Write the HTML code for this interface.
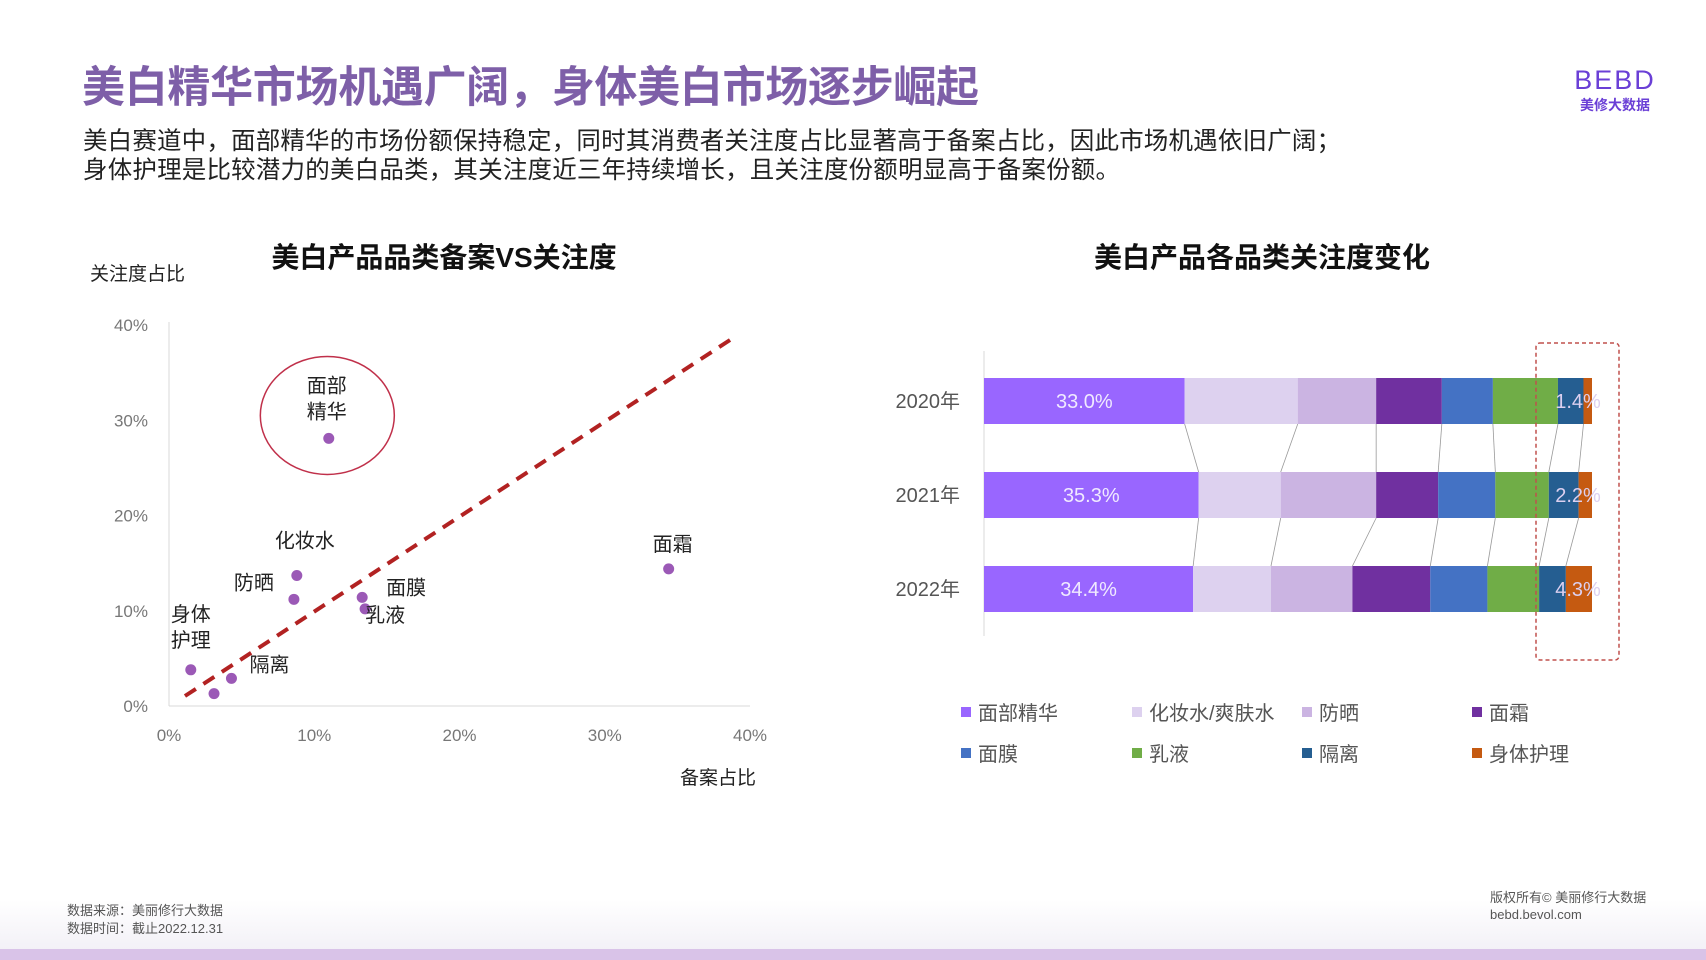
<!DOCTYPE html>
<html><head><meta charset="utf-8">
<style>
body{margin:0;width:1706px;height:960px;background:#fff;overflow:hidden;font-family:"Liberation Sans","Noto Sans CJK SC",sans-serif;}
svg{position:absolute;left:0;top:0}
text{font-family:"Liberation Sans","Noto Sans CJK SC",sans-serif}
</style></head>
<body>
<svg id="s" width="1706" height="960" xmlns="http://www.w3.org/2000/svg">
<defs><linearGradient id="fg" x1="0" y1="0" x2="0" y2="1"><stop offset="0" stop-color="#fff"/><stop offset="1" stop-color="#f3f1f7"/></linearGradient></defs>
<rect x="0" y="900" width="1706" height="49" fill="url(#fg)"/>
<rect x="0" y="949" width="1706" height="11" fill="#d9c3e8"/>
<text x="82" y="102" font-size="43" font-weight="bold" fill="#7e5fa8" textLength="897">美白精华市场机遇广阔，身体美白市场逐步崛起</text>
<text x="83" y="149" font-size="24.5" fill="#222" textLength="1258">美白赛道中，面部精华的市场份额保持稳定，同时其消费者关注度占比显著高于备案占比，因此市场机遇依旧广阔；</text>
<text x="83" y="178" font-size="24.5" fill="#222" textLength="1037">身体护理是比较潜力的美白品类，其关注度近三年持续增长，且关注度份额明显高于备案份额。</text>
<g>
<text x="1615" y="89" font-size="27" fill="#6a3fd6" text-anchor="middle" letter-spacing="2">BEBD</text>
<text x="1615" y="110" font-size="14" fill="#6a3fd6" text-anchor="middle" font-weight="bold">美修大数据</text>
</g>
<text x="444" y="267" font-size="28" font-weight="bold" fill="#111" text-anchor="middle">美白产品品类备案VS关注度</text>
<text x="1262" y="267" font-size="28" font-weight="bold" fill="#111" text-anchor="middle">美白产品各品类关注度变化</text>
<text x="90" y="280" font-size="19" fill="#222">关注度占比</text>
<text x="756" y="784" font-size="19" fill="#222" text-anchor="end">备案占比</text>
<g id="sc"></g>
<g id="bc"></g>
<g id="lg"></g>
<text x="67" y="915" font-size="13" fill="#555">数据来源：美丽修行大数据</text>
<text x="67" y="933" font-size="13" fill="#555">数据时间：截止2022.12.31</text>
<text x="1490" y="902" font-size="13" fill="#555">版权所有© 美丽修行大数据</text>
<text x="1490" y="919" font-size="13" fill="#555">bebd.bevol.com</text>
</svg>
<script>
const NS="http://www.w3.org/2000/svg";
const scNames=["面部精华","化妆水","防晒","面膜","乳液","面霜","身体护理","隔离",""];
const scFiling=[11.0,8.8,8.6,13.3,13.5,34.4,1.5,4.3,3.1];
const scAttention=[28.1,13.7,11.2,11.4,10.2,14.4,3.8,2.9,1.3];
const ticks=[0,10,20,30,40];
const trendX=[1.1,39];
const trendY=[1.05,38.8];
const years=["2020年","2021年","2022年"];
const cats=["面部精华","化妆水/爽肤水","防晒","面霜","面膜","乳液","隔离","身体护理"];
const colors=["#9966ff","#ddd1ef","#cbb4e2","#7030a0","#4472c4","#70ad47","#255e91","#c55a11"];
const share2020=[33.0,18.6,12.9,10.8,8.4,10.7,4.2,1.4];
const share2021=[35.3,13.5,15.7,10.2,9.4,8.8,4.9,2.2];
const share2022=[34.4,12.8,13.4,12.8,9.4,8.5,4.4,4.3];
const shares=[share2020,share2021,share2022];

function mk(t,a,p){const e=document.createElementNS(NS,t);for(const k in a)e.setAttribute(k,a[k]);(p||document.getElementById('s')).appendChild(e);return e;}
const sc=document.getElementById('sc');
const X0=169,X1=750,Y0=706,Y1=325;
const sx=v=>X0+(X1-X0)*v/40, sy=v=>Y0-(Y0-Y1)*v/40;
let ax=mk('line',{x1:X0,y1:Y1-3,x2:X0,y2:Y0,stroke:'#d9d9d9'},sc);


ax=mk('line',{x1:X0,y1:Y0,x2:X1,y2:Y0,stroke:'#d9d9d9'},sc);


ticks.forEach(t=>{
 let a=mk('text',{x:148,y:sy(t)+6,'font-size':17,fill:'#777','text-anchor':'end'},sc);a.textContent=t+'%';
 
 
 let b=mk('text',{x:sx(t),y:741,'font-size':17,fill:'#777','text-anchor':'middle'},sc);b.textContent=t+'%';
 
 
});
let tl=mk('line',{x1:sx(trendX[0]),y1:sy(trendY[0]),x2:sx(trendX[1]),y2:sy(trendY[1]),stroke:'#b22222','stroke-width':4,'stroke-dasharray':'13 9'},sc);


let ci=mk('ellipse',{cx:sx(scFiling[0]-0.1),cy:sy(scAttention[0]+2.4),rx:67,ry:59,fill:'none',stroke:'#c0304a','stroke-width':1.5},sc);


const lblOff=[[-2,-20,'middle'],[8,-28,'middle'],[-20,-10,'end'],[24,-3,'start'],[0,13,'start'],[4,-18,'middle'],[0,-23,'middle'],[18,-7,'start'],null];
scFiling.forEach((f,i)=>{
 const c=mk('circle',{cx:sx(f),cy:sy(scAttention[i]),r:5.5,fill:'#9b59b6'},sc);
 
 
 const o=lblOff[i]; if(!o||!scNames[i])return;
 let nm=scNames[i];
 if(i==0||i==6){
  const t1=mk('text',{x:sx(f)+o[0],y:sy(scAttention[i])+o[1]-26,'font-size':20,fill:'#222','text-anchor':o[2]},sc);t1.textContent=nm.slice(0,2);
  
  
  const t2=mk('text',{x:sx(f)+o[0],y:sy(scAttention[i])+o[1],'font-size':20,fill:'#222','text-anchor':o[2]},sc);t2.textContent=nm.slice(2);
  
  
 }else{
  const t=mk('text',{x:sx(f)+o[0],y:sy(scAttention[i])+o[1],'font-size':20,fill:'#222','text-anchor':o[2]},sc);t.textContent=nm;
  
  
 }
});
const bc=document.getElementById('bc');
const BL=984,BR=1592,BH=46,BY=[378,472,566];
const bx=v=>BL+(BR-BL)*v/100;
let ba=mk('line',{x1:BL,y1:351,x2:BL,y2:636,stroke:'#d9d9d9'},bc);


const cum=shares.map(r=>{let c=[0];r.forEach(v=>c.push(c[c.length-1]+v));return c;});
for(let y=0;y<2;y++){
 for(let k=1;k<cats.length;k++){
  const l=mk('line',{x1:bx(cum[y][k]),y1:BY[y]+BH,x2:bx(cum[y+1][k]),y2:BY[y+1],stroke:'#999','stroke-width':0.8},bc);
  
  
 }
}
shares.forEach((r,y)=>{
 const yl=mk('text',{x:960,y:BY[y]+BH/2+7,'font-size':20,fill:'#555','text-anchor':'end'},bc);yl.textContent=years[y];
 
 
 r.forEach((v,k)=>{
  const rc=mk('rect',{x:bx(cum[y][k]),y:BY[y],width:bx(v)-BL,height:BH,fill:colors[k]},bc);
  
  
 });
 const t=mk('text',{x:bx(r[0]/2),y:BY[y]+BH/2+7,'font-size':20,fill:'#f0eaff','text-anchor':'middle'},bc);t.textContent=r[0].toFixed(1)+'%';
 
 
 const t2=mk('text',{x:1578,y:BY[y]+BH/2+7,'font-size':20,fill:'#dcd0f0','text-anchor':'middle'},bc);t2.textContent=r[7].toFixed(1)+'%';
 
 
});
let db=mk('rect',{x:1536,y:343,width:83,height:317,rx:4,fill:'none',stroke:'#c0504d','stroke-width':1.5,'stroke-dasharray':'4 3'},bc);


const lg=document.getElementById('lg');
const LX=[961,1132,1302,1472],LY=[713,754];
cats.forEach((c,k)=>{
 const x=LX[k%4],y=LY[Math.floor(k/4)];
 const g=mk('g',{},lg);
 
 
 mk('rect',{x:x,y:y-6,width:10,height:10,fill:colors[k]},g);
 const t=mk('text',{x:x+17,y:y+7,'font-size':20,fill:'#555'},g);t.textContent=c;
});
</script>
</body></html>
